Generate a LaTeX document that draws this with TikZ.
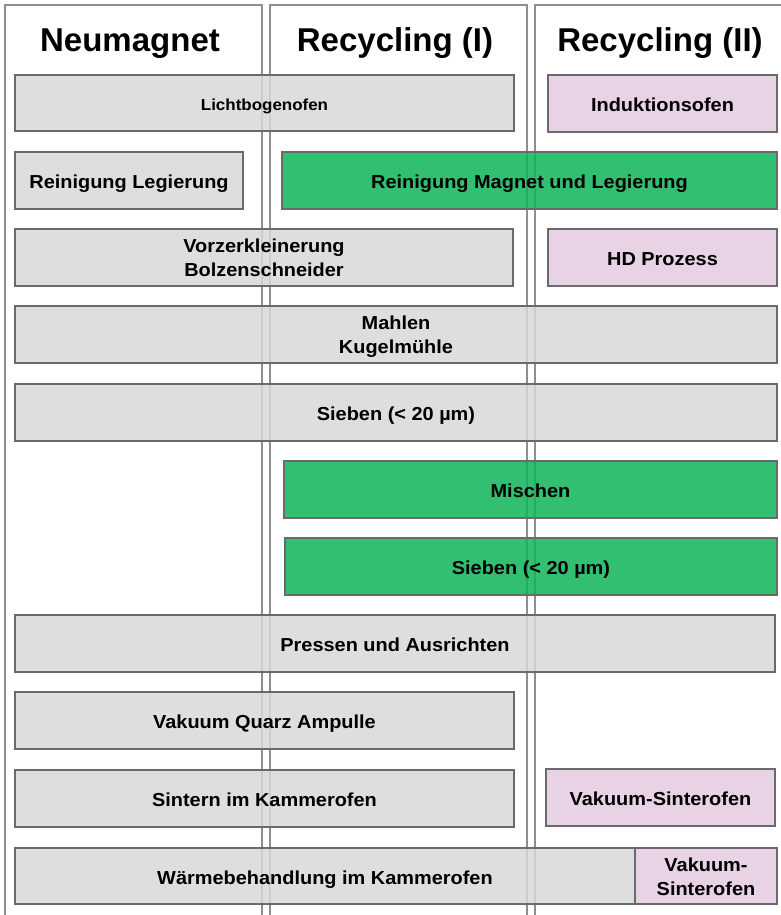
\documentclass[tikz,border=0pt]{standalone}
\usepackage{fontspec}
\setmainfont{Liberation Sans}
\newfontfamily\boxfont[FakeStretch=1.06]{Liberation Sans}
\definecolor{boxgray}{HTML}{D9D9D9}
\definecolor{boxline}{HTML}{6A6A6A}
\definecolor{boxgreen}{HTML}{0FB45A}
\definecolor{boxpink}{HTML}{E3CBE2}
\definecolor{colline}{HTML}{8E8E8E}
\tikzset{
  colframe/.style={draw=colline, line width=1.5pt},
  header/.style={font=\bfseries\fontsize{33}{36}\selectfont, anchor=base, inner sep=0pt},
  stepbox/.style={draw=boxline, line width=1.3pt, fill opacity=0.85, inner sep=0pt},
  steptext/.style={font=\boxfont\bfseries\fontsize{18.8}{23.4}\selectfont, align=center,
     inner sep=0pt, anchor=base},
  smalltext/.style={font=\boxfont\bfseries\fontsize{16}{20}\selectfont},
  graybox/.style={stepbox, fill=boxgray},
  greenbox/.style={stepbox, fill=boxgreen},
  pinkbox/.style={stepbox, fill=boxpink},
}
% #1 name, #2-#5 box corners (y downwards), #6 box style, #7 text style,
% #8 offset of the last text baseline from the box centre, #9 text
\newcommand{\pbox}[9]{%
  \node[#6, minimum width={(#4)-(#2)}, minimum height={(#5)-(#3)}]
    (#1) at ({((#2)+(#4))/2},{((#3)+(#5))/2}) {};
  \node[steptext,#7] (#1-t) at ({((#2)+(#4))/2},{((#3)+(#5))/2+(#8)}) {#9};}
\begin{document}
\begin{tikzpicture}[x=1pt,y=-1pt]
\useasboundingbox (0,0) rectangle (781,915);
\clip (0,0) rectangle (781,915);
\fill[white] (0,0) rectangle (781,915);
% column frames
\draw[colframe] (5,5) rectangle (262,940);
\draw[colframe] (270,5) rectangle (527,940);
\draw[colframe] (535,5) rectangle (800,940);
% headers
\node[header] (h1) at (130,52) {Neumagnet};
\node[header] (h2) at (395,52) {Recycling (I)};
\node[header] (h3) at (660,52) {Recycling (II)};
% boxes
\pbox{licht}{15}{75}{514}{131}{graybox}{smalltext}{7.7}{Lichtbogenofen}
\pbox{induk}{548}{75}{777}{132}{pinkbox}{}{8}{Induktionsofen}
\pbox{reinleg}{15}{152}{243}{209}{graybox}{}{8}{Reinigung Legierung}
\pbox{reinmag}{282}{152}{777}{209}{greenbox}{}{8}{Reinigung Magnet und Legierung}
\pbox{vorz}{15}{229}{513}{286}{graybox}{}{18.7}{Vorzerkleinerung\\Bolzenschneider}
\pbox{hd}{548}{229}{777}{286}{pinkbox}{}{8}{HD Prozess}
\pbox{mahlen}{15}{306}{777}{363}{graybox}{}{18.7}{Mahlen\\Kugelmühle}
\pbox{sieben}{15}{384}{777}{441}{graybox}{}{8}{Sieben (< 20 µm)}
\pbox{mischen}{284}{461}{777}{518}{greenbox}{}{8}{Mischen}
\pbox{siebenb}{285}{538}{777}{595}{greenbox}{}{8}{Sieben (< 20 µm)}
\pbox{pressen}{15}{615}{775}{672}{graybox}{}{8}{Pressen und Ausrichten}
\pbox{quarz}{15}{692}{514}{749}{graybox}{}{8}{Vakuum Quarz Ampulle}
\pbox{sintern}{15}{770}{514}{827}{graybox}{}{8}{Sintern im Kammerofen}
\pbox{vaksint}{546}{769}{775}{826}{pinkbox}{}{8}{Vakuum-Sinterofen}
\pbox{waerme}{15}{848}{635}{904}{graybox}{}{8}{Wärmebehandlung im Kammerofen}
\pbox{vaksintb}{635}{848}{777}{904}{pinkbox}{}{19}{Vakuum-\\Sinterofen}
\end{tikzpicture}
\end{document}
